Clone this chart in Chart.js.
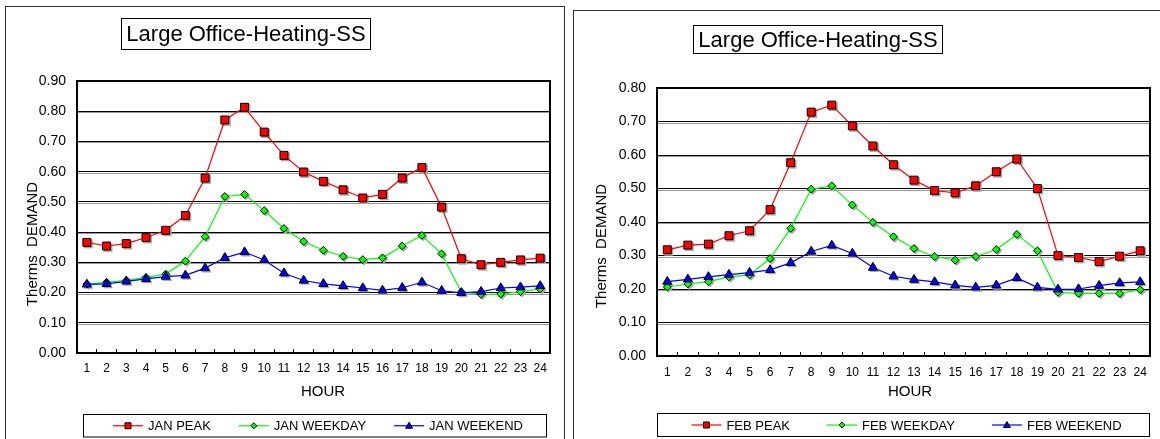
<!DOCTYPE html>
<html>
<head>
<meta charset="utf-8">
<script src="https://cdn.jsdelivr.net/npm/chart.js"></script>
<style>
  body { margin: 0; background: #fff; width: 1160px; height: 439px; overflow: hidden; position: relative; }
  canvas { position: absolute; top: 0; }
  #JanChart { left: 0; }
  #FebChart { left: 570px; }
</style>
</head>
<body>
<canvas id="JanChart" width="570" height="439"></canvas>
<canvas id="FebChart" width="590" height="439"></canvas>
<script>
const hours = ["1","2","3","4","5","6","7","8","9","10","11","12","13","14","15","16","17","18","19","20","21","22","23","24"];
const chartTitle = "Large Office-Heating-SS";
const yTitle = "Therms  DEMAND";
const xTitle = "HOUR";

// January (left chart)
const janPeak    = [0.366,0.354,0.362,0.382,0.406,0.455,0.579,0.771,0.813,0.731,0.654,0.599,0.568,0.540,0.513,0.525,0.579,0.614,0.483,0.312,0.292,0.300,0.308,0.314];
const janWeekday = [0.228,0.234,0.240,0.250,0.261,0.304,0.385,0.518,0.525,0.471,0.412,0.369,0.340,0.320,0.309,0.315,0.354,0.389,0.328,0.202,0.194,0.195,0.203,0.212];
const janWeekend = [0.227,0.229,0.237,0.245,0.253,0.257,0.281,0.315,0.334,0.308,0.264,0.240,0.229,0.222,0.215,0.207,0.216,0.234,0.206,0.199,0.203,0.215,0.218,0.222];

// February (right chart)
const febPeak    = [0.317,0.331,0.334,0.359,0.374,0.437,0.577,0.728,0.749,0.687,0.627,0.571,0.525,0.494,0.487,0.508,0.550,0.588,0.500,0.300,0.294,0.282,0.298,0.314];
const febWeekday = [0.206,0.215,0.222,0.236,0.242,0.291,0.381,0.498,0.508,0.451,0.399,0.356,0.321,0.297,0.286,0.297,0.318,0.363,0.314,0.190,0.187,0.187,0.187,0.198];
const febWeekend = [0.222,0.229,0.236,0.243,0.249,0.257,0.278,0.312,0.330,0.306,0.264,0.238,0.228,0.221,0.211,0.205,0.211,0.233,0.205,0.199,0.200,0.210,0.218,0.221];

const FONT = "'Liberation Sans', Arial, sans-serif";
Chart.defaults.font.family = FONT;
Chart.defaults.color = "#000";

// marker path, used for the legend and for the gray marker shadows
function markerPath(ctx, style, x, y, s){
    ctx.beginPath();
    if (style === "rect") {
        ctx.rect(x - s, y - s, 2 * s, 2 * s);
    } else if (style === "rectRot") {
        ctx.moveTo(x - s, y); ctx.lineTo(x, y - s); ctx.lineTo(x + s, y); ctx.lineTo(x, y + s); ctx.closePath();
    } else {
        ctx.moveTo(x, y - s); ctx.lineTo(x + s * 0.866, y + s / 2); ctx.lineTo(x - s * 0.866, y + s / 2); ctx.closePath();
    }
}

function drawMarker(ctx, style, x, y, color){
    ctx.save();
    ctx.fillStyle = color;
    ctx.strokeStyle = "#000";
    ctx.lineWidth = 1;
    markerPath(ctx, style, x, y + (style === "triangle" ? 0.5 : 0), style === "rect" ? 3 : (style === "rectRot" ? 3 : 4));
    ctx.fill();
    ctx.stroke();
    ctx.restore();
}

// outer frame, boxed title, plot border, axis titles and the boxed legend
const decor = {
    id: "decor",
    beforeDatasetsDraw(chart, args, opts){
        const ctx = chart.ctx;
        const area = chart.chartArea;
        const y = chart.scales.y;
        ctx.save();
        // gray shadow line under each gridline
        ctx.strokeStyle = "#9a9a9a";
        ctx.lineWidth = 1;
        y.ticks.forEach(t => {
            const py = Math.round(y.getPixelForValue(t.value)) + 1.5;
            if (py > area.bottom - 2 || py < area.top + 2) return;
            ctx.beginPath();
            ctx.moveTo(area.left, py);
            ctx.lineTo(area.right, py);
            ctx.stroke();
        });
        // plot border
        ctx.strokeStyle = "#000";
        ctx.lineWidth = 2;
        ctx.strokeRect(Math.round(area.left), Math.round(area.top), Math.round(area.right - area.left), Math.round(area.bottom - area.top));
        // gray marker shadows
        ctx.fillStyle = "#a8a8a8";
        chart.data.datasets.forEach((ds, i) => {
            const size = ds.pointStyle === "rect" ? ds.pointRadius * Math.SQRT1_2 : ds.pointRadius;
            chart.getDatasetMeta(i).data.forEach(pt => {
                markerPath(ctx, ds.pointStyle, pt.x + 1.5, pt.y + 1.5, size + 0.5);
                ctx.fill();
            });
        });
        ctx.restore();
    },
    afterDraw(chart, args, opts){
        const ctx = chart.ctx;
        ctx.save();
        // outer frame
        ctx.strokeStyle = "#333";
        ctx.lineWidth = 1;
        ctx.strokeRect(opts.frame.x, opts.frame.y, opts.frame.w, 600);

        // title box
        const tb = opts.titleBox;
        ctx.fillStyle = "#fff";
        ctx.fillRect(tb.x, tb.y, tb.w, tb.h);
        ctx.strokeStyle = "#000";
        ctx.strokeRect(tb.x, tb.y, tb.w, tb.h);
        ctx.fillStyle = "#000";
        ctx.font = "22px " + FONT;
        ctx.textAlign = "center";
        ctx.textBaseline = "middle";
        ctx.fillText(chartTitle, tb.x + tb.w / 2, tb.y + tb.h / 2 + 1);

        // axis titles
        ctx.font = "15px " + FONT;
        ctx.fillText(xTitle, opts.xTitle.x, opts.xTitle.y);
        ctx.save();
        ctx.translate(opts.yTitle.x, opts.yTitle.y);
        ctx.rotate(-Math.PI / 2);
        ctx.fillText(yTitle, 0, 0);
        ctx.restore();

        // legend
        const lb = opts.legendBox;
        ctx.strokeStyle = "#000";
        ctx.lineWidth = 1;
        ctx.strokeRect(lb.x, lb.y, lb.w, lb.h);
        ctx.font = "13px " + FONT;
        const items = chart.data.datasets.map(ds => ({ds, w: 30 + 5 + ctx.measureText(ds.label).width}));
        const total = items.reduce((s, it) => s + it.w, 0) + opts.legendGap * (items.length - 1);
        let x = lb.x + lb.w / 2 - total / 2 + 3;
        const cy = lb.y + lb.h / 2;
        items.forEach(it => {
            ctx.strokeStyle = it.ds.borderColor;
            ctx.lineWidth = 1.2;
            ctx.beginPath();
            ctx.moveTo(x, cy);
            ctx.lineTo(x + 30, cy);
            ctx.stroke();
            drawMarker(ctx, it.ds.pointStyle, x + 15, cy, it.ds.backgroundColor);
            ctx.fillStyle = "#000";
            ctx.textAlign = "left";
            ctx.textBaseline = "middle";
            ctx.fillText(it.ds.label, x + 35, cy + 1);
            x += it.w + opts.legendGap;
        });
        ctx.restore();
    }
};

function makeChart(canvasId, month, peak, weekday, weekend, yMax, lay){
    const ctx = document.getElementById(canvasId).getContext("2d");
    return new Chart(ctx, {
        type: "line",
        data: {
            labels: hours,
            datasets: [{
                label: month + " PEAK",
                data: peak,
                borderColor: "#ff0000",
                backgroundColor: "#ff0000",
                pointStyle: "rect",
                pointRadius: 5.6,
                pointBorderColor: "#000",
                pointBorderWidth: 1,
                borderWidth: 1.2,
                order: 2
            }, {
                label: month + " WEEKDAY",
                data: weekday,
                borderColor: "#00ff00",
                backgroundColor: "#00ff00",
                pointStyle: "rectRot",
                pointRadius: 3.9,
                pointBorderColor: "#000",
                pointBorderWidth: 1,
                borderWidth: 1.2,
                order: 1
            }, {
                label: month + " WEEKEND",
                data: weekend,
                borderColor: "#0000ff",
                backgroundColor: "#0000ff",
                pointStyle: "triangle",
                pointRadius: 5.2,
                pointBorderColor: "#000",
                pointBorderWidth: 1,
                borderWidth: 1.2,
                order: 0
            }]
        },
        options: {
            responsive: false,
            animation: false,
            devicePixelRatio: 1,
            layout: { padding: lay.pad },
            plugins: {
                legend: { display: false },
                title: { display: false },
                tooltip: { enabled: false },
                decor: lay
            },
            scales: {
                x: {
                    offset: true,
                    grid: { display: true, drawOnChartArea: false, drawTicks: true, tickLength: -4, offset: true, color: "#000" },
                    border: { display: false },
                    ticks: { autoSkip: false, maxRotation: 0, padding: lay.xTickPad, font: { size: 12 } },
                    afterFit: axis => { axis.height = lay.xHeight; }
                },
                y: {
                    min: 0,
                    max: yMax,
                    grid: { color: "#000", lineWidth: 1, drawTicks: false },
                    border: { display: false },
                    ticks: { stepSize: 0.1, padding: 11, font: { size: 14 }, callback: v => v.toFixed(2) },
                    afterFit: axis => { axis.width = lay.yWidth; }
                }
            }
        },
        plugins: [decor]
    });
}

makeChart("JanChart", "JAN", janPeak, janWeekday, janWeekend, 0.9, {
    pad: { top: 81, right: 20, bottom: 38, left: 0 },
    yWidth: 77, xHeight: 48, xTickPad: 12,
    frame: { x: 5.5, y: 6.5, w: 559 },
    titleBox: { x: 121.5, y: 18.5, w: 249, h: 31 },
    xTitle: { x: 323, y: 392 },
    yTitle: { x: 33, y: 244 },
    legendBox: { x: 83.5, y: 414.5, w: 463, h: 22.5 },
    legendGap: 28
});

makeChart("FebChart", "FEB", febPeak, febWeekday, febWeekend, 0.8, {
    pad: { top: 88, right: 0, bottom: 38, left: 0 },
    yWidth: 87, xHeight: 45, xTickPad: 13,
    frame: { x: 3.5, y: 10.5, w: 700 },
    titleBox: { x: 123.5, y: 25.5, w: 249, h: 28 },
    xTitle: { x: 340, y: 392 },
    yTitle: { x: 32, y: 246 },
    legendBox: { x: 87.5, y: 413.5, w: 492, h: 23 },
    legendGap: 37
});
</script>
</body>
</html>
